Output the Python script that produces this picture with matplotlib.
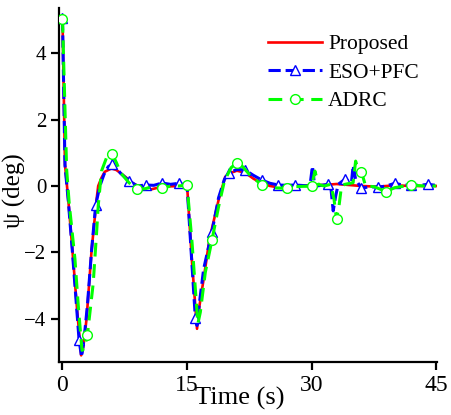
import matplotlib
matplotlib.use("Agg")
import matplotlib.pyplot as plt
import numpy as np

plt.rcParams['font.family'] = ['Liberation Serif', 'DejaVu Serif']
plt.rcParams['mathtext.fontset'] = 'stix'

# Proposed (red)
t_prop = [0, 0.3, 0.7, 1.2, 1.8, 2.25, 2.5, 2.9, 3.5, 4.1, 4.3, 4.7, 5.1, 5.9, 6.5, 7.3, 8.5, 9.5, 10.7, 12, 14, 15.0,
          15.6, 16.2, 16.5, 17.0, 17.7, 18.8, 19.6, 20.3, 21.0, 22.0, 23.0, 24.0, 25.0, 26.0, 28.0, 30.0, 31.5,
          33.0, 34.0, 36.0, 38.0, 40.0, 42.0, 45.0]
v_prop = [5.05, 0.65, -0.42, -1.95, -3.85, -5.1, -4.85, -4.0, -1.95, -0.42, 0.0, 0.25, 0.43, 0.53, 0.48, 0.33, 0.08, -0.05, -0.1, -0.02, 0.0, 0.03,
          -2.3, -4.3, -3.6, -2.8, -1.6, -0.42, 0.28, 0.4, 0.46, 0.4, 0.22, 0.08, 0.0, -0.04, 0.0, 0.02, 0.03,
          0.06, 0.04, 0.0, -0.02, 0.02, 0.0, 0.0]

# ESO+PFC (blue), triangles every 2 s
t_eso = [0, 0.3, 0.7, 1.2, 2.0, 2.3, 2.6, 3.0, 3.5, 4.0, 4.5, 5.0, 5.5, 6.0, 6.5, 7.0, 8.0, 9.0, 10.0, 11.0, 12.0, 13.0,
         14.0, 15.0, 15.5, 16.0, 16.2, 16.5, 17.0, 18.0, 18.8, 19.5, 20.0, 21.0, 22.0, 23.0, 24.0, 25.0, 26.0, 27.0,
         28.0, 29.8, 30.1, 30.3, 30.6, 32.0, 32.3, 32.6, 32.9, 33.2, 34.0, 34.8, 35.0, 35.3, 36.0, 37.0, 38.0, 39.0,
         40.0, 41.0, 42.0, 43.0, 44.0, 45.0]
v_eso = [5.05, 0.62, -0.45, -2.0, -4.65, -5.15, -4.6, -3.6, -1.95, -0.57, 0.0, 0.35, 0.58, 0.66, 0.55, 0.38, 0.16, 0.0, 0.03, 0.02, 0.09, 0.05,
         0.08, 0.02, -2.0, -3.99, -4.2, -3.5, -2.5, -1.38, -0.35, 0.2, 0.38, 0.5, 0.48, 0.32, 0.18, 0.08, 0.03, 0.02,
         0.03, 0.0, 0.6, 0.15, 0.0, 0.05, 0.0, -0.75, -0.3, 0.05, 0.2, 0.1, 0.62, 0.2, -0.07, -0.02, -0.04, 0.0,
         0.08, 0.03, 0.03, 0.02, 0.05, 0.02]
m_eso = np.arange(0, 45, 2)

# ADRC (green), circles every 3 s
t_adrc = [0, 0.5, 0.8, 1.5, 1.9, 2.35, 2.6, 3.0, 3.7, 4.1, 4.3, 4.7, 5.3, 6.0, 6.5, 7.0, 8.0, 9.0, 10.0, 11.0, 12.0,
          13.0, 14.0, 15.0, 15.6, 16.3, 16.6, 17.2, 18.0, 18.8, 19.5, 20.3, 21.0, 21.7, 22.5, 24.0, 25.0, 27.0,
          28.0, 30.0, 30.4, 30.8, 31.5, 32.3, 32.7, 33.0, 33.3, 33.6, 34.0, 35.0, 35.3, 35.6, 36.0, 36.5, 37.5,
          39.0, 40.0, 42.0, 43.5, 45.0]
v_adrc = [5.03, 0.5, -0.5, -2.2, -3.6, -4.95, -4.9, -4.49, -2.93, -1.43, -0.6, 0.45, 0.85, 0.96, 0.7, 0.4, 0.1, -0.1, -0.08, 0.0, -0.07,
          0.0, 0.0, 0.03, -1.7, -4.15, -3.8, -2.6, -1.63, -0.62, 0.15, 0.55, 0.7, 0.58, 0.35, 0.03, -0.05, -0.07,
          -0.02, 0.0, 0.45, 0.05, 0.0, 0.05, -0.4, -1.0, -0.6, 0.0, 0.05, 0.1, 0.75, 0.5, 0.43, 0.0, -0.02,
          -0.17, -0.05, 0.03, 0.0, 0.0]
m_adrc = np.arange(0, 43, 3)


def mark_idx(t, marks):
    return [i for i, x in enumerate(t) if np.any(np.isclose(x, marks))]


fig = plt.figure(figsize=(4.51, 4.15), dpi=100)
ax = fig.add_axes([59/451, 1-362/415, 378/451, 354/415])

ax.plot(t_prop, v_prop, color='#ff0000', lw=1.9, label='Proposed', zorder=3)
ax.plot(t_eso, v_eso, color='#0000ff', lw=2.2, ls=(0, (4, 1.6)), marker='^', ms=7.5,
        mfc='white', mec='#0000ff', mew=1.0, markevery=mark_idx(t_eso, m_eso), label='ESO+PFC', zorder=4)
ax.plot(t_adrc, v_adrc, color='#00ff00', lw=2.2, ls=(0, (4.5, 2.5)), marker='o', ms=7,
        mfc='white', mec='#00ff00', mew=1.0, markevery=mark_idx(t_adrc, m_adrc), label='ADRC', zorder=5)

ax.set_xlim(-0.42, 45.1)
ax.set_ylim(-5.30, 5.36)
ax.set_xticks([0, 15, 30, 45])
ax.set_yticks([-4, -2, 0, 2, 4])
for s in ['top', 'right']:
    ax.spines[s].set_visible(False)
for s in ['left', 'bottom']:
    ax.spines[s].set_linewidth(1.6)
ax.tick_params(direction='out', length=6, width=1.6)
ax.tick_params(axis='x', labelsize=17, pad=3)
ax.tick_params(axis='y', labelsize=15, pad=3)

ax.set_xlabel('Time (s)', fontsize=19)
ax.xaxis.set_label_coords(0.479, -0.07)
ax.set_ylabel('ψ (deg)', fontsize=18)
ax.yaxis.set_label_coords(-0.088, 0.483)

ax.legend(loc='upper left', bbox_to_anchor=(268/451, 1-34/415), bbox_transform=fig.transFigure,
          frameon=False, fontsize=15.5, handlelength=2.5, handletextpad=0.3, labelspacing=0.4,
          borderpad=0, borderaxespad=0)

fig.savefig('out.png', dpi=100)
